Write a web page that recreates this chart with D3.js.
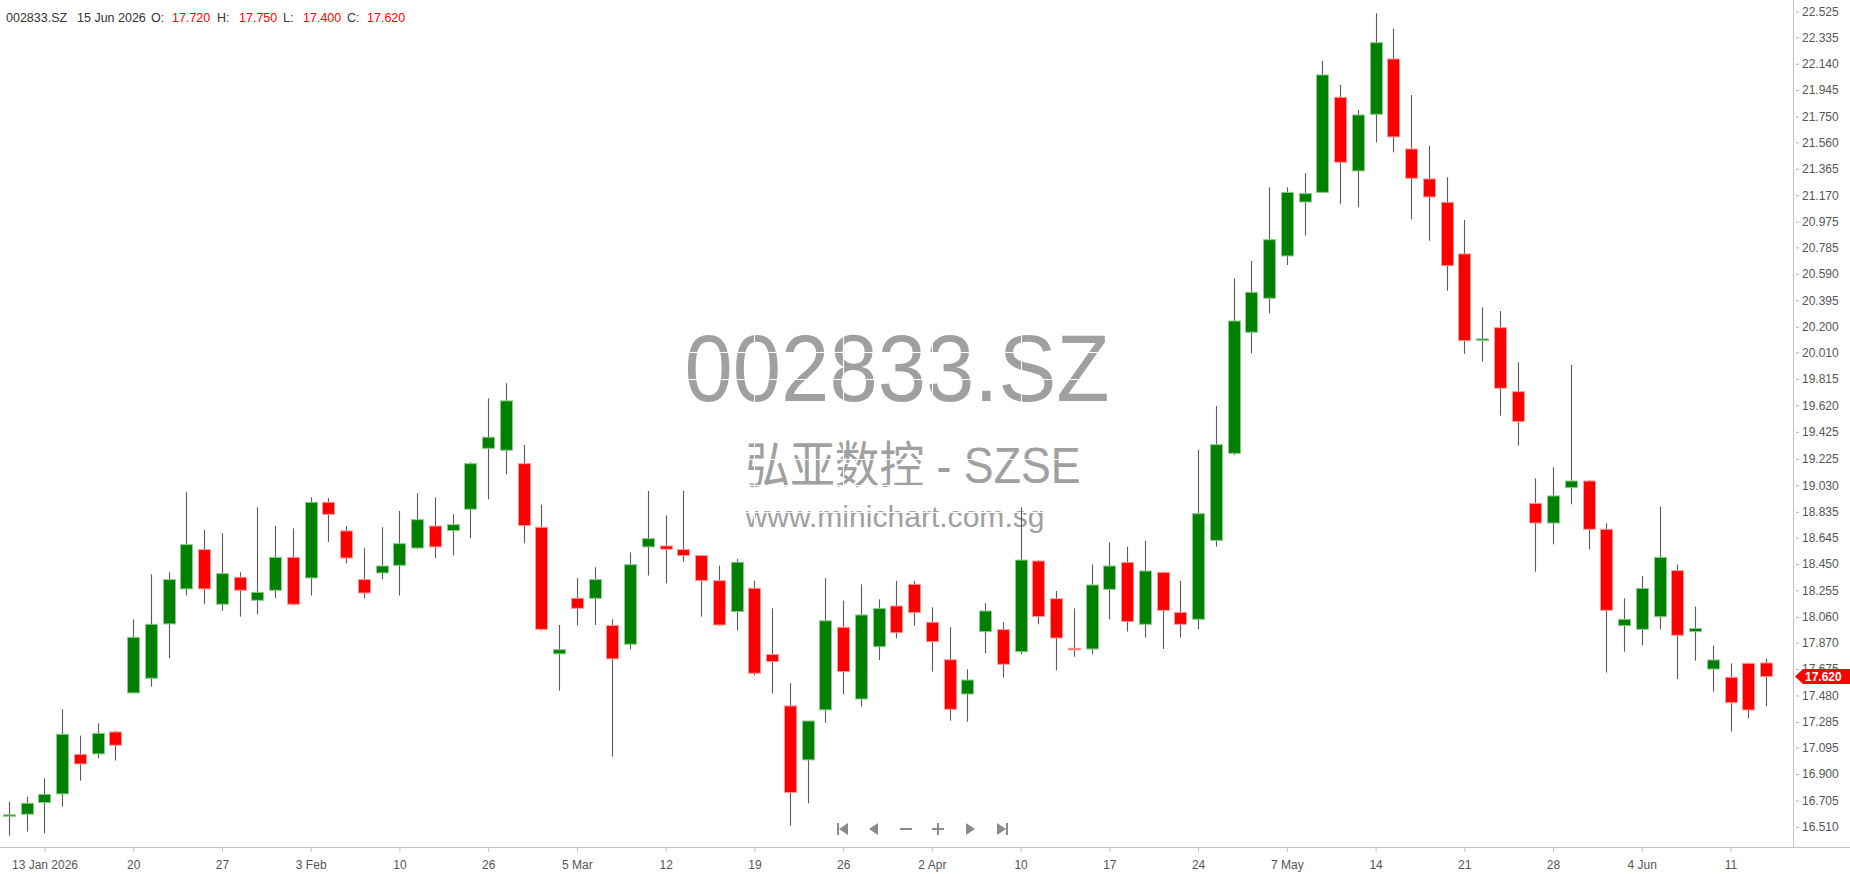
<!DOCTYPE html>
<html><head><meta charset="utf-8">
<script src="https://cdn.jsdelivr.net/npm/d3@7"></script>
<style>
html,body{margin:0;padding:0;background:#fff;overflow:hidden;}
svg{display:block;}
</style></head><body>
<svg id="chart" width="1850" height="874"></svg>
<script>
const dates = [
"2026-01-09","2026-01-12","2026-01-13","2026-01-14","2026-01-15","2026-01-16","2026-01-19","2026-01-20","2026-01-21","2026-01-22",
"2026-01-23","2026-01-26","2026-01-27","2026-01-28","2026-01-29","2026-01-30","2026-02-02","2026-02-03","2026-02-04","2026-02-05",
"2026-02-06","2026-02-09","2026-02-10","2026-02-11","2026-02-12","2026-02-13","2026-02-25","2026-02-26","2026-02-27","2026-03-02",
"2026-03-03","2026-03-04","2026-03-05","2026-03-06","2026-03-09","2026-03-10","2026-03-11","2026-03-12","2026-03-13","2026-03-16",
"2026-03-17","2026-03-18","2026-03-19","2026-03-20","2026-03-23","2026-03-24","2026-03-25","2026-03-26","2026-03-27","2026-03-30",
"2026-03-31","2026-04-01","2026-04-02","2026-04-03","2026-04-07","2026-04-08","2026-04-09","2026-04-10","2026-04-13","2026-04-14",
"2026-04-15","2026-04-16","2026-04-17","2026-04-20","2026-04-21","2026-04-22","2026-04-23","2026-04-24","2026-04-27","2026-04-28",
"2026-04-29","2026-04-30","2026-05-07","2026-05-08","2026-05-11","2026-05-12","2026-05-13","2026-05-14","2026-05-15","2026-05-18",
"2026-05-19","2026-05-20","2026-05-21","2026-05-22","2026-05-25","2026-05-26","2026-05-27","2026-05-28","2026-05-29","2026-06-01",
"2026-06-02","2026-06-03","2026-06-04","2026-06-05","2026-06-08","2026-06-09","2026-06-10","2026-06-11","2026-06-12","2026-06-15"
];
const openV = [
16.600,16.604,16.690,16.754,17.046,17.049,17.211,17.499,17.607,18.008,
18.266,18.556,18.153,18.352,18.182,18.256,18.499,18.347,18.905,18.694,
18.335,18.384,18.440,18.568,18.730,18.696,18.854,19.303,19.289,19.190,
18.721,17.787,18.197,18.197,17.996,17.858,18.576,18.583,18.556,18.512,
18.327,18.099,18.271,17.782,17.403,17.005,17.374,17.983,17.454,17.840,
18.140,18.300,18.020,17.744,17.491,17.951,17.966,17.803,18.472,18.194,
17.828,17.823,18.263,18.462,18.005,18.388,18.093,18.042,18.624,19.266,
20.159,20.410,20.722,21.120,21.191,21.892,21.349,21.767,22.175,21.511,
21.290,21.118,20.737,20.100,20.193,19.721,18.897,18.752,19.013,19.062,
18.706,17.995,17.968,18.061,18.401,17.951,17.675,17.614,17.717,17.720
];
const highV = [
16.697,16.734,16.869,17.378,17.184,17.275,17.219,18.040,18.374,18.389,
18.979,18.703,18.676,18.389,18.868,18.730,18.713,18.942,18.935,18.730,
18.566,18.721,18.841,18.971,18.942,18.817,19.200,19.672,19.783,19.328,
18.888,18.000,18.345,18.426,18.042,18.536,18.989,18.807,18.989,18.517,
18.438,18.487,18.327,18.123,17.570,17.292,18.345,18.180,18.300,18.189,
18.325,18.325,18.130,17.983,17.673,18.160,18.020,18.868,18.479,18.251,
18.123,18.447,18.610,18.578,18.620,18.393,18.325,19.291,19.615,20.557,
20.685,21.228,21.228,21.332,22.160,21.983,21.799,22.512,22.399,21.909,
21.533,21.302,20.987,20.343,20.316,19.938,19.082,19.163,19.918,19.070,
18.750,18.197,18.361,18.873,18.447,18.135,17.848,17.717,17.722,17.750
];
const lowV = [
16.446,16.476,16.464,16.660,16.852,17.017,17.000,17.495,17.545,17.754,
18.217,18.153,18.106,18.062,18.079,18.199,18.145,18.217,18.612,18.455,
18.197,18.337,18.217,18.560,18.494,18.512,18.640,18.927,19.112,18.603,
17.959,17.516,17.996,18.000,17.029,17.821,18.364,18.308,18.468,18.062,
17.996,17.959,17.627,17.496,16.520,16.685,17.280,17.489,17.398,17.742,
17.902,17.995,17.656,17.294,17.287,17.791,17.612,17.784,18.005,17.666,
17.766,17.784,18.042,17.951,17.907,17.823,17.907,17.968,18.578,19.254,
20.004,20.299,20.655,20.872,21.185,21.103,21.081,21.560,21.486,20.992,
20.835,20.466,20.000,19.942,19.544,19.323,18.393,18.595,18.890,18.558,
17.649,17.803,17.850,17.968,17.602,17.737,17.508,17.214,17.311,17.400
];
const closeV = [
16.600,16.685,16.751,17.194,16.975,17.201,17.113,17.909,18.005,18.335,
18.593,18.266,18.379,18.256,18.241,18.499,18.153,18.905,18.816,18.494,
18.236,18.435,18.600,18.777,18.576,18.740,19.190,19.385,19.653,18.733,
17.968,17.818,18.123,18.335,17.750,18.445,18.637,18.559,18.512,18.327,
18.000,18.463,17.644,17.730,16.764,17.292,18.031,17.656,18.074,18.121,
17.943,18.091,17.877,17.378,17.594,18.103,17.710,18.479,18.062,17.904,
17.822,18.295,18.435,18.025,18.398,18.108,18.005,18.821,19.330,20.242,
20.454,20.842,21.191,21.182,22.057,21.413,21.762,22.295,21.600,21.295,
21.157,20.650,20.097,20.110,19.746,19.500,18.752,18.952,19.062,18.706,
18.108,18.042,18.270,18.499,17.924,17.975,17.742,17.427,17.373,17.620
];
const yTickLabels = ["22.525","22.335","22.140","21.945","21.750","21.560","21.365","21.170","20.975","20.785",
"20.590","20.395","20.200","20.010","19.815","19.620","19.425","19.225","19.030","18.835","18.645","18.450",
"18.255","18.060","17.870","17.675","17.480","17.285","17.095","16.900","16.705","16.510"];
const xTickDates = ["2026-01-13","2026-01-20","2026-01-27","2026-02-03","2026-02-10","2026-02-26","2026-03-05",
"2026-03-12","2026-03-19","2026-03-26","2026-04-02","2026-04-10","2026-04-17","2026-04-24","2026-05-07",
"2026-05-14","2026-05-21","2026-05-28","2026-06-04","2026-06-11"];
const xTickLabels = ["13 Jan 2026","20","27","3 Feb","10","26","5 Mar","12","19","26","2 Apr","10","17","24",
"7 May","14","21","28","4 Jun","11"];
const symbol = "002833.SZ";
const companyLine = "弘亚数控 - SZSE";
const siteLine = "www.minichart.com.sg";
const lastDateLabel = "15 Jun 2026";

const FONT = "'Liberation Sans', Arial, 'Noto Sans CJK SC', sans-serif";
const svg = d3.select("#chart");
const axisX = 1793, axisBottom = 847;

const x = d3.scalePoint().domain(dates).range([9, 1766]);
const y = d3.scaleLinear().domain([16.510, 22.525]).range([827, 11.5]);
const tickVals = yTickLabels.map(Number);

// watermark
const wm = svg.append("g").attr("fill", "#a0a0a0").attr("font-family", FONT).attr("text-anchor", "middle");
wm.append("text").attr("x", 897).attr("y", 401).attr("font-size", 94)
  .attr("textLength", 425).attr("lengthAdjust", "spacingAndGlyphs").text(symbol);
wm.append("text").attr("x", 913).attr("y", 483).attr("font-size", 50)
  .attr("textLength", 335).attr("lengthAdjust", "spacingAndGlyphs").text(companyLine);
wm.append("text").attr("x", 895).attr("y", 527).attr("font-size", 30)
  .attr("textLength", 299).attr("lengthAdjust", "spacingAndGlyphs").text(siteLine);

// white grid lines (only visible over the watermark)
const grid = svg.append("g").attr("stroke", "#fff").attr("stroke-width", 1).attr("shape-rendering", "crispEdges");
grid.selectAll("line.h").data(tickVals).join("line").attr("class", "h")
  .attr("x1", 0).attr("x2", axisX).attr("y1", d => Math.round(y(d)) + 0.5).attr("y2", d => Math.round(y(d)) + 0.5);
grid.selectAll("line.v").data(xTickDates).join("line").attr("class", "v")
  .attr("y1", 0).attr("y2", axisBottom).attr("x1", d => Math.round(x(d)) + 0.5).attr("x2", d => Math.round(x(d)) + 0.5);

// candles
const data = dates.map((d, i) => ({ d, o: openV[i], h: highV[i], l: lowV[i], c: closeV[i] }));
const cg = svg.append("g");
cg.selectAll("line.wick").data(data).join("line").attr("class", "wick")
  .attr("x1", d => Math.round(x(d.d)) + 0.5).attr("x2", d => Math.round(x(d.d)) + 0.5)
  .attr("y1", d => y(d.h)).attr("y2", d => y(d.l))
  .attr("stroke", "#5a5a5a").attr("stroke-width", 1.1);
cg.selectAll("rect.body").data(data).join("rect").attr("class", "body")
  .attr("x", d => Math.round(x(d.d)) - 5.5)
  .attr("width", 12)
  .attr("y", d => y(Math.max(d.o, d.c)))
  .attr("height", d => Math.max(Math.abs(y(d.o) - y(d.c)), 1.5))
  .attr("fill", d => d.c >= d.o ? "#008000" : "#ff0000")
  .attr("stroke", d => d.c >= d.o ? "#8ccc8c" : "#ff9a9a")
  .attr("stroke-width", 1);

// axis lines
svg.append("line").attr("x1", axisX + 0.5).attr("x2", axisX + 0.5).attr("y1", 0).attr("y2", axisBottom)
  .attr("stroke", "#c4c4c4").attr("stroke-width", 1);
svg.append("line").attr("x1", 0).attr("x2", 1850).attr("y1", axisBottom + 0.5).attr("y2", axisBottom + 0.5)
  .attr("stroke", "#c4c4c4").attr("stroke-width", 1);

// y axis (right)
const yAxis = d3.axisRight(y).tickValues(tickVals).tickFormat((d, i) => yTickLabels[i]).tickSize(6).tickSizeOuter(0);
const gy = svg.append("g").attr("transform", `translate(${axisX},0)`).call(yAxis);
gy.attr("font-family", FONT).attr("font-size", 12);
gy.select(".domain").remove();
gy.selectAll(".tick line").attr("x1", 3).attr("x2", 6).attr("stroke", "#b0b0b0");
gy.selectAll(".tick text").attr("x", 9).attr("fill", "#555");

// x axis (bottom)
const xAxis = d3.axisBottom(x).tickValues(xTickDates).tickFormat((d, i) => xTickLabels[i]).tickSize(5).tickPadding(8).tickSizeOuter(0);
const gx = svg.append("g").attr("transform", `translate(0,${axisBottom})`).call(xAxis);
gx.attr("font-family", FONT).attr("font-size", 12);
gx.select(".domain").remove();
gx.selectAll(".tick line").attr("stroke", "#c4c4c4");
gx.selectAll(".tick text").attr("fill", "#555");

// last price tag
const last = data[data.length - 1];
const ly = y(last.c);
svg.append("path")
  .attr("d", `M${axisX + 2},${ly} L${axisX + 10},${ly - 7.5} L1850,${ly - 7.5} L1850,${ly + 7.5} L${axisX + 10},${ly + 7.5} Z`)
  .attr("fill", "#ff0000");
svg.append("text").attr("x", axisX + 12).attr("y", ly).attr("dy", "0.35em")
  .attr("font-family", FONT).attr("font-size", 12).attr("font-weight", "bold").attr("fill", "#fff")
  .text(d3.format(".3f")(last.c));

// navigation buttons
const nav = svg.append("g").attr("fill", "#8a8a8a").attr("transform", "translate(0,829)");
nav.append("rect").attr("x", 837).attr("y", -6).attr("width", 2).attr("height", 12);
nav.append("path").attr("d", "M839,0 L848,-6 L848,6 Z");
nav.append("path").attr("d", "M869,0 L878,-6 L878,6 Z");
nav.append("rect").attr("x", 900).attr("y", -1).attr("width", 12).attr("height", 2);
nav.append("rect").attr("x", 932).attr("y", -1).attr("width", 12).attr("height", 2);
nav.append("rect").attr("x", 937).attr("y", -6).attr("width", 2).attr("height", 12);
nav.append("path").attr("d", "M966,-6 L975,0 L966,6 Z");
nav.append("path").attr("d", "M997,-6 L1006,0 L997,6 Z");
nav.append("rect").attr("x", 1006).attr("y", -6).attr("width", 2).attr("height", 12);

// header
const fmt = d3.format(".3f");
const hdr = svg.append("g").attr("font-family", FONT).attr("font-size", 12.5);
const red = "#ff0000", dark = "#333";
const pieces = [
  [symbol, 6, dark], [lastDateLabel, 77, dark],
  ["O:", 151, dark], [fmt(last.o), 172, last.c >= last.o ? "#008000" : red],
  ["H:", 217, dark], [fmt(last.h), 239, last.c >= last.o ? "#008000" : red],
  ["L:", 283, dark], [fmt(last.l), 303, last.c >= last.o ? "#008000" : red],
  ["C:", 347, dark], [fmt(last.c), 367, last.c >= last.o ? "#008000" : red]
];
hdr.selectAll("text").data(pieces).join("text")
  .attr("x", d => d[1]).attr("y", 18).attr("dy", "0.35em").attr("fill", d => d[2]).text(d => d[0]);
</script>
</body></html>
